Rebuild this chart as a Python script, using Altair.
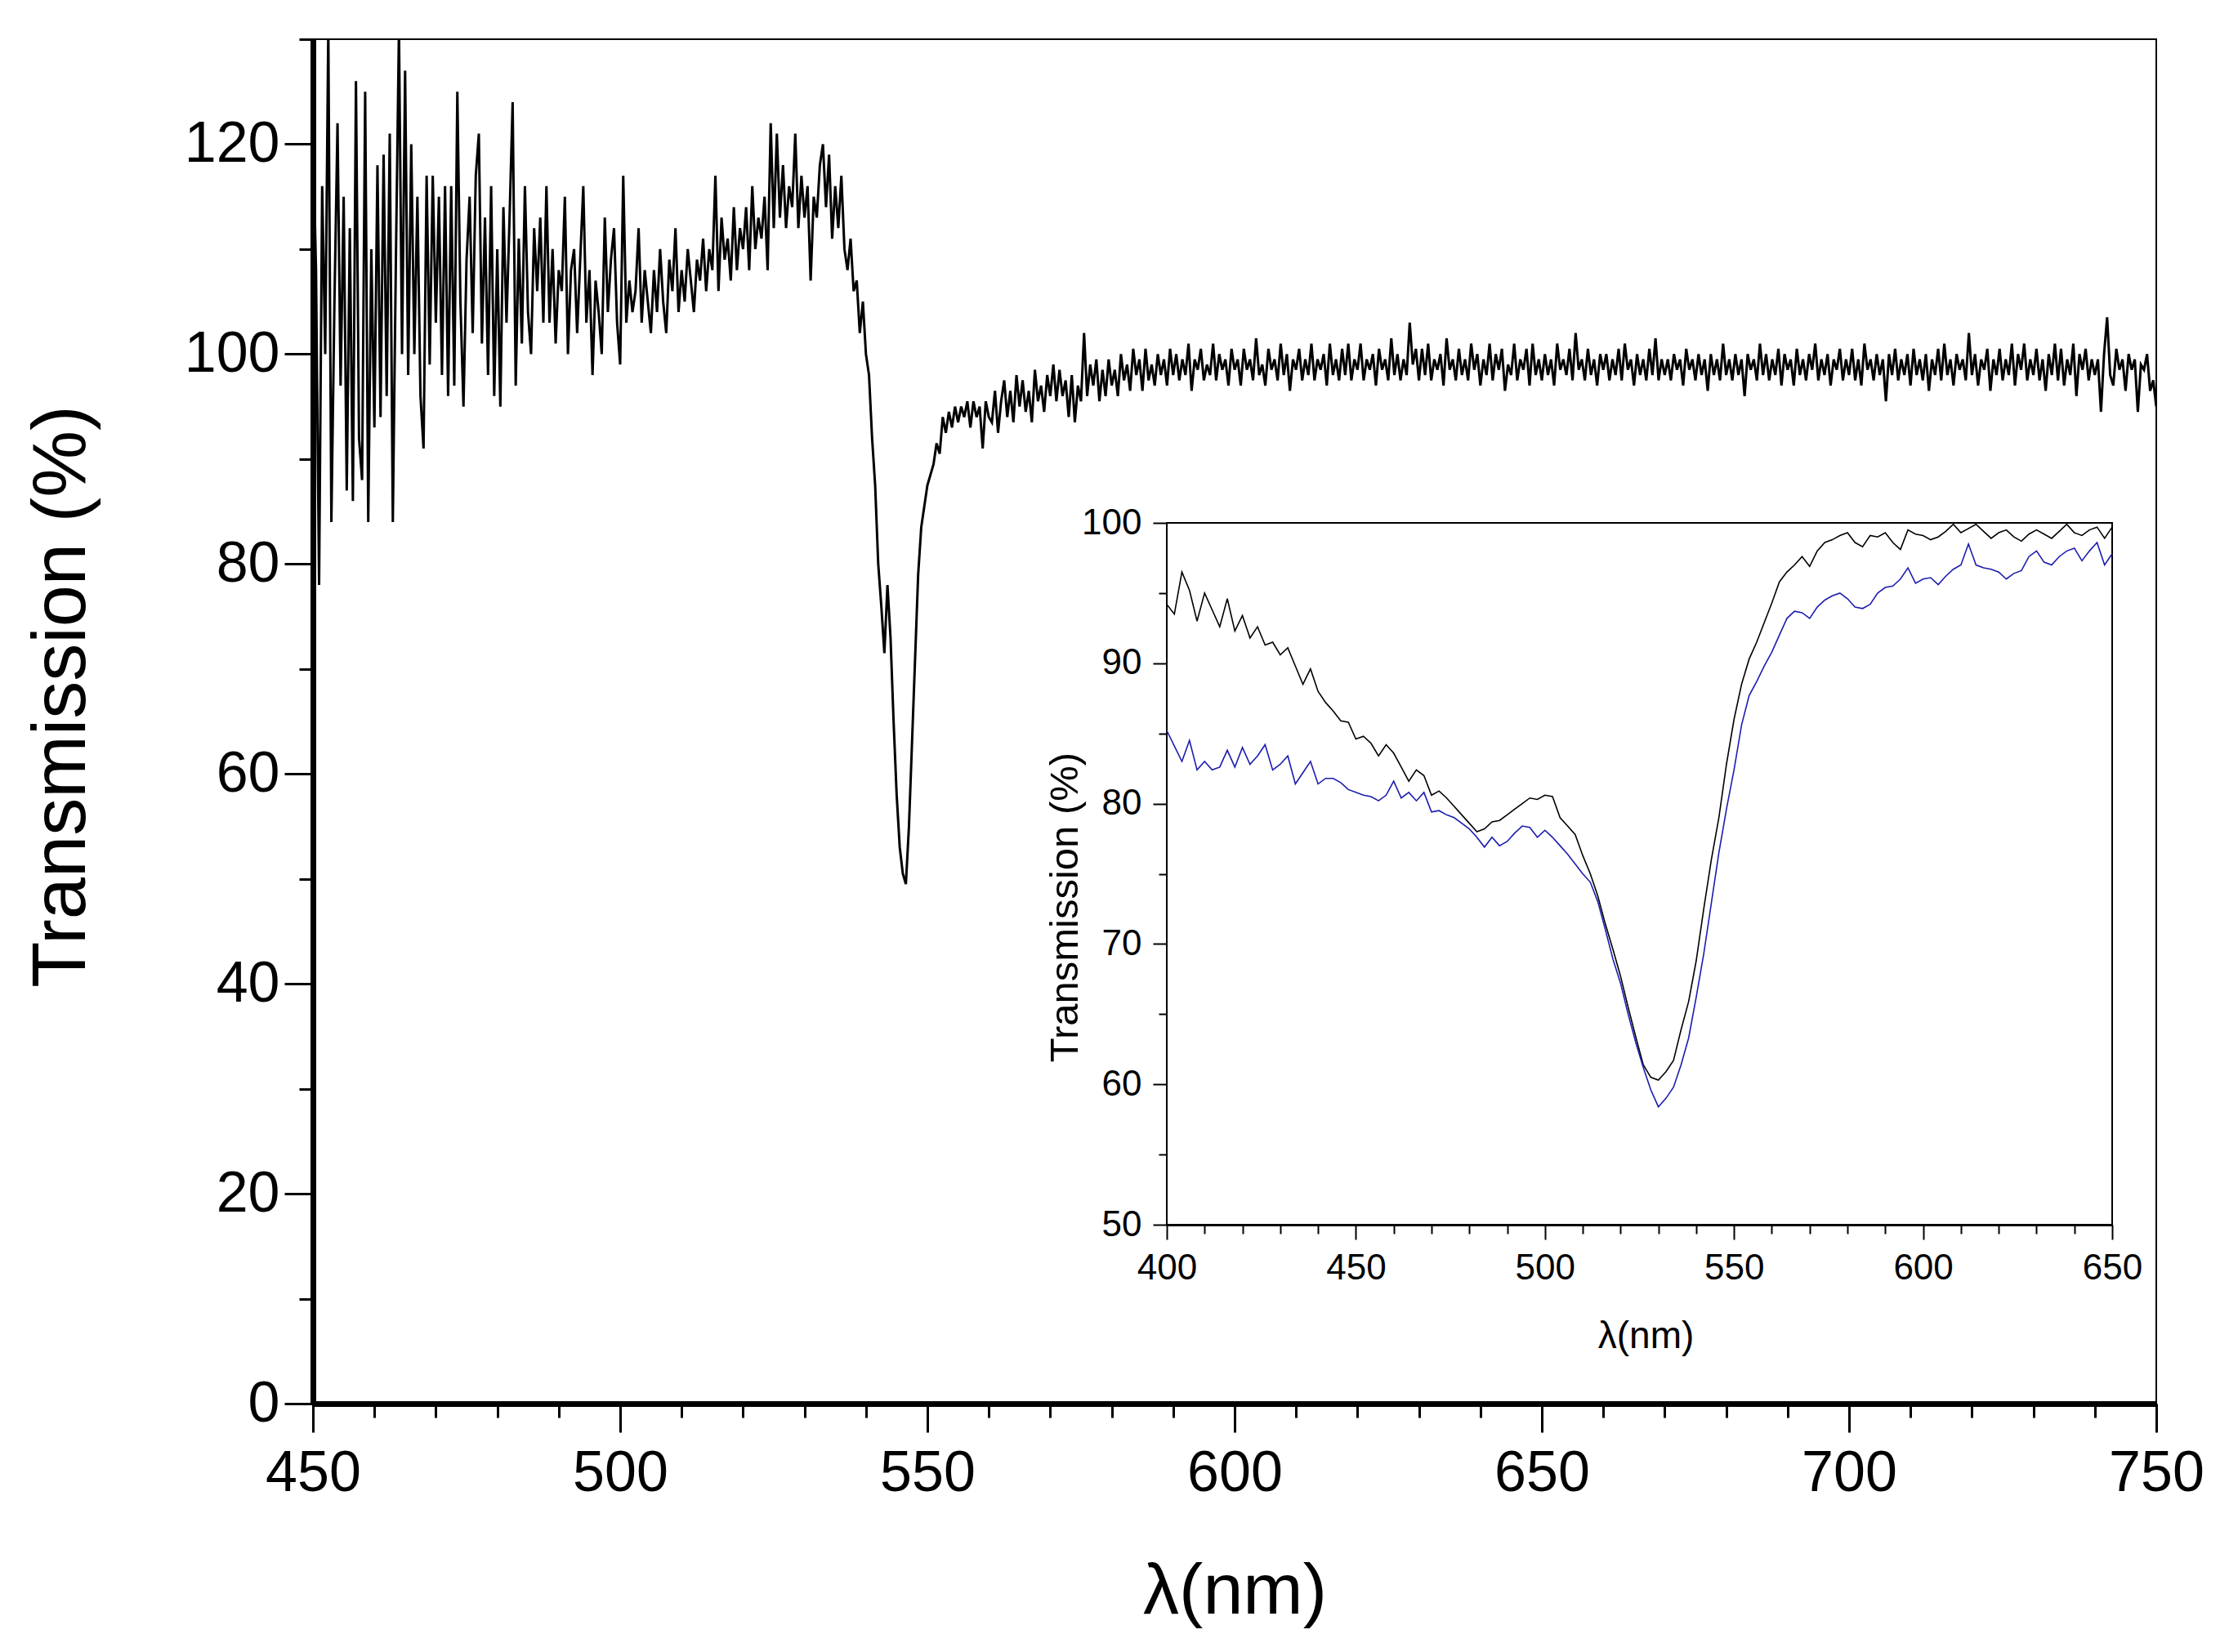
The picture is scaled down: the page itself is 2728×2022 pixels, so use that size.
import altair as alt
import numpy as np
import pandas as pd

FONT = "Liberation Sans"

# main spectrum: 450-540 nm read every 0.5 nm (noisy part)
wl_noisy = np.arange(450, 540.01, 0.5)
t_noisy = [
    121, 108, 78, 116, 100, 131, 84, 105, 122, 97, 115,
    87, 112, 86, 126, 92, 88, 125, 84, 110, 93,
    118, 94, 119, 96, 121, 84, 109, 131, 100, 127,
    98, 120, 100, 115, 96, 91, 117, 99, 117, 103,
    115, 98, 116, 96, 116, 97, 125, 105, 95, 109,
    115, 102, 117, 121, 101, 113, 98, 116, 96, 110,
    95, 114, 103, 113, 124, 97, 111, 101, 116, 104,
    100, 112, 106, 113, 103, 116, 103, 110, 101, 108,
    106, 115, 100, 108, 110, 102, 109, 116, 103, 108,
    98, 107, 104, 100, 113, 104, 109, 112, 103, 99,
    117, 103, 107, 104, 106, 112, 103, 108, 105, 102,
    108, 104, 110, 105, 102, 109, 106, 112, 104, 108,
    105, 110, 107, 104, 109, 107, 111, 106, 110, 108,
    117, 106, 113, 109, 111, 107, 114, 108, 112, 110,
    114, 108, 116, 110, 113, 111, 115, 108, 122, 112,
    121, 113, 118, 112, 116, 114, 121, 112, 117, 113,
    116, 107, 115, 113, 118, 120, 114, 119, 111, 116,
    112, 117, 110, 108, 111, 106, 107, 102, 105, 100,
]

# the dip, 540.5-560 nm every 0.5 nm
wl_dip = np.arange(540.5, 560.01, 0.5)
t_dip = [
    98, 92, 87.5, 80, 76, 71.5, 78, 73, 65, 58,
    53, 50.5, 49.5, 55, 63, 71, 79, 83.5, 85.5, 87.5,
    88.5, 89.5, 91.5, 90.5, 94, 92.5, 94.5, 93, 95, 93.5,
    95, 94, 95.5, 93, 95.5, 94, 95, 91, 95.5, 94,
]

# flat part, 560.5-750 nm every 0.5 nm (one row = 10 nm)
wl_flat = np.arange(560.5, 750.01, 0.5)
t_flat = [
    93.5, 96.5, 92.5, 95.5, 97.5, 94, 96.5, 93.5, 98, 95, 97.5, 94.5, 96.5, 93.5, 98.5, 95.5, 97, 94.5, 98, 96,
    99, 95.5, 98.5, 96, 97.5, 94, 98, 93.5, 97, 95.5, 102, 96, 99, 97, 99.5, 95.5, 98.5, 96, 99.5, 97,
    98.5, 96, 100, 97.5, 99, 96.5, 100.5, 98, 99.5, 96.5, 100.5, 97.5, 99, 97, 100, 98, 99.5, 97, 100.5, 98,
    100, 97.5, 99.5, 98, 101, 96.5, 99.5, 98.5, 100.5, 97.5, 99, 98, 101, 97.5, 100, 98.5, 99.5, 97, 100.5, 98.5,
    99.5, 97, 100.5, 98.5, 99.5, 97.5, 101.5, 98, 99, 97, 100.5, 98.5, 99.5, 97.5, 101, 98, 100, 96.5, 99.5, 98.5,
    100.5, 97.5, 99.5, 98, 101, 97.5, 99.5, 98.5, 100, 97, 101, 98, 99.5, 97.5, 100.5, 98, 101, 97.5, 99.5, 98.5,
    101, 97.5, 99.5, 98.5, 100, 97, 100.5, 98.5, 99.5, 97.5, 101.5, 98, 100, 97.5, 99.5, 98, 103, 99, 100.5, 97.5,
    100.5, 98, 101, 97.5, 99.5, 98.5, 100, 97, 101.5, 98.5, 99.5, 97.5, 100.5, 98, 99.5, 97.5, 101, 98.5, 100, 97,
    99.5, 98, 101, 97.5, 100, 98.5, 100.5, 96.5, 99, 98, 101, 97.5, 99.5, 98.5, 100.5, 97, 101, 98, 99.5, 97.5,
    100, 98, 99.5, 97, 101, 98.5, 99.5, 98, 100.5, 97.5, 102, 98.5, 99.5, 97.5, 100.5, 98, 99.5, 97, 100, 98.5,
    100, 97.5, 99.5, 98, 100.5, 97.5, 101, 98.5, 99.5, 97, 100, 98, 99.5, 97.5, 100.5, 98, 101.5, 97.5, 99.5, 98,
    99.5, 97.5, 100, 98.5, 99.5, 97, 100.5, 98.5, 99.5, 97.5, 100, 98, 99.5, 96.5, 100, 98, 99.5, 97.5, 101, 98,
    99.5, 97.5, 100, 98, 99.5, 96, 100, 98.5, 99.5, 97.5, 101, 98, 100, 97.5, 99.5, 98, 100.5, 97, 100, 98.5,
    99.5, 97, 100.5, 98, 99.5, 97.5, 100, 98.5, 101, 97.5, 99.5, 98, 100, 97, 99.5, 98.5, 100.5, 97.5, 99.5, 98,
    100.5, 97.5, 99.5, 97, 101, 98.5, 99.5, 97.5, 100, 98, 99.5, 95.5, 100, 98, 100.5, 97.5, 99.5, 98, 100, 97,
    100.5, 98, 99.5, 97.5, 100, 96.5, 99.5, 98, 100.5, 97.5, 101, 98, 99.5, 97, 100, 98.5, 99.5, 97.5, 102, 98,
    100, 97, 99.5, 98.5, 100.5, 96.5, 99.5, 98, 100.5, 97.5, 99.5, 98, 101, 97, 100, 98.5, 101, 97.5, 99.5, 98,
    100.5, 97.5, 99.5, 96.5, 100, 98, 101, 97.5, 100.5, 97, 99.5, 98, 101, 96, 100, 98.5, 100.5, 97.5, 99.5, 98,
    99.5, 94.5, 100, 103.5, 98, 97, 100.5, 98.5, 99.5, 96.5, 100, 98.5, 99.5, 94.5, 99, 98.5, 100, 96.5, 97.5, 95,
]

# inset: two spectra, 400-650 nm every 2 nm
wl_inset = np.arange(400, 650.01, 2.0)
t_black = [
    94.2, 93.5, 96.5, 95.2, 93.0, 95.0, 93.8, 92.6, 94.6, 92.3,
    93.4, 91.8, 92.6, 91.3, 91.5, 90.6, 91.1, 89.8, 88.5, 89.6,
    88.0, 87.2, 86.6, 85.9, 85.8, 84.6, 84.8, 84.3, 83.4, 84.2,
    83.6, 82.6, 81.6, 82.4, 82.0, 80.6, 80.9, 80.4, 79.8, 79.2,
    78.6, 78.0, 78.2, 78.7, 78.8, 79.2, 79.6, 80.0, 80.4, 80.3,
    80.6, 80.5, 79.0, 78.4, 77.8, 76.3, 75.0, 73.4, 71.4, 69.6,
    67.7, 65.5, 63.4, 61.4, 60.5, 60.3, 60.9, 61.7, 63.9, 65.9,
    68.8, 72.5, 76.0, 79.0, 82.8, 86.0, 88.5, 90.3, 91.5, 92.9,
    94.3, 95.8, 96.5, 97.0, 97.6, 96.9, 98.0, 98.6, 98.8, 99.1,
    99.3, 98.6, 98.3, 99.1, 99.0, 99.3, 98.6, 98.1, 99.5, 99.2,
    99.1, 98.8, 99.0, 99.4, 99.9, 99.3, 99.6, 99.9, 99.4, 98.9,
    99.3, 99.5, 99.0, 98.7, 99.2, 99.5, 99.2, 98.9, 99.4, 99.9,
    99.3, 99.1, 99.5, 99.7, 98.9, 99.7,
]
t_blue = [
    85.2, 84.1, 83.0, 84.5, 82.4, 83.0, 82.4, 82.6, 83.8, 82.6,
    84.0, 82.8, 83.4, 84.2, 82.4, 82.8, 83.4, 81.4, 82.2, 83.0,
    81.4, 81.8, 81.8, 81.5, 81.0, 80.8, 80.6, 80.5, 80.2, 80.6,
    81.6, 80.4, 80.8, 80.2, 80.8, 79.4, 79.5, 79.2, 79.0, 78.6,
    78.2, 77.6, 76.9, 77.6, 77.0, 77.3, 77.9, 78.4, 78.3, 77.6,
    78.1, 77.6, 77.0, 76.4, 75.7, 75.0, 74.4, 73.0, 71.0, 68.9,
    67.2, 65.0, 63.0, 61.2, 59.6, 58.4, 59.0, 59.8, 61.4, 63.3,
    66.2, 69.3, 72.9, 76.5, 79.6, 82.4, 85.6, 87.7, 88.7, 89.8,
    90.8, 92.0, 93.2, 93.7, 93.6, 93.2, 94.0, 94.5, 94.8, 95.0,
    94.6, 94.0, 93.9, 94.2, 95.0, 95.4, 95.5, 96.0, 96.8, 95.7,
    96.0, 96.1, 95.6, 96.2, 96.7, 97.0, 98.5, 97.0, 96.8, 96.7,
    96.5, 96.0, 96.4, 96.6, 97.6, 98.0, 97.2, 97.0, 97.6, 98.0,
    98.2, 97.3, 98.0, 98.6, 97.0, 97.8,
]

main_df = pd.DataFrame({
    "wl": np.concatenate([wl_noisy, wl_dip, wl_flat]),
    "t": t_noisy + t_dip + t_flat,
})
inset_df = pd.DataFrame({"wl": wl_inset, "black": t_black, "blue": t_blue})
frame_df = pd.DataFrame({"x": [400], "x2": [650], "y": [50], "y2": [100]})

W, H = 2256, 1670


def tick_len(step, major, minor):
    return {"condition": {"test": f"datum.value % {step} === 0", "value": major}, "value": minor}


common = dict(
    grid=False, labelFont=FONT, labelColor="black", titleFont=FONT, titleColor="black",
    titleFontWeight="normal", domainColor="black", tickColor="black",
    labelFlush=False, labelOverlap=False,
)

x_main = alt.X(
    "wl:Q",
    scale=alt.Scale(domain=[450, 750], nice=False, zero=False),
    axis=alt.Axis(
        orient="bottom", title="λ(nm)", values=list(range(450, 751, 10)),
        labelExpr="datum.value % 50 === 0 ? datum.label : ''",
        tickSize=tick_len(50, 35, 17), tickWidth=3, domainWidth=7,
        labelFontSize=70, labelPadding=16,
        titleFontSize=88, titleX=W / 2, titleY=230, titleBaseline="middle",
        **common,
    ),
)
y_main = alt.Y(
    "t:Q",
    scale=alt.Scale(domain=[0, 130], nice=False, zero=False),
    axis=alt.Axis(
        orient="left", title="Transmission (%)", values=list(range(0, 131, 10)),
        labelExpr="datum.value % 20 === 0 ? datum.label : ''",
        tickSize=tick_len(20, 35, 17), tickWidth=3, domainWidth=7,
        labelFontSize=70, labelPadding=6,
        titleFontSize=92, titleX=-308, titleY=804, titleBaseline="middle", titleAngle=270,
        **common,
    ),
)

main_line = alt.Chart(main_df).mark_line(color="black", strokeWidth=3.0, clip=True).encode(
    x=x_main, y=y_main
)

# inset placed inside the plot area through its own scale ranges
IX0, IX1, IY0, IY1 = 1045, 2202, 592, 1451
x_in_axis = alt.Axis(
    orient="bottom", offset=-(H - IY1), title="λ(nm)", values=list(range(400, 651, 10)),
    labelExpr="datum.value % 50 === 0 ? datum.label : ''",
    tickSize=tick_len(50, 18, 11), tickWidth=2, domainWidth=3,
    labelFontSize=44, labelPadding=13,
    titleFontSize=46, titleX=1631, titleY=136, titleBaseline="middle",
    **common,
)
y_in_axis = alt.Axis(
    orient="left", offset=-IX0, title="Transmission (%)", values=list(range(50, 101, 5)),
    labelExpr="datum.value % 10 === 0 ? datum.label : ''",
    tickSize=tick_len(10, 17, 10), tickWidth=2, domainWidth=3,
    labelFontSize=44, labelPadding=14,
    titleFontSize=49, titleX=-125, titleY=1062, titleBaseline="middle", titleAngle=270,
    **common,
)
x_in_scale = alt.Scale(domain=[400, 650], range=[IX0, IX1], nice=False, zero=False)
y_in_scale = alt.Scale(domain=[50, 100], range=[IY1, IY0], nice=False, zero=False)

frame = alt.Chart(frame_df).mark_rect(fill="white", stroke="black", strokeWidth=2).encode(
    x=alt.X("x:Q", scale=x_in_scale, axis=x_in_axis),
    x2="x2:Q",
    y=alt.Y("y:Q", scale=y_in_scale, axis=y_in_axis),
    y2="y2:Q",
)
black_line = alt.Chart(inset_df).mark_line(color="black", strokeWidth=1.6, clip=True).encode(
    x=alt.X("wl:Q", scale=x_in_scale, axis=x_in_axis),
    y=alt.Y("black:Q", scale=y_in_scale, axis=y_in_axis),
)
blue_line = alt.Chart(inset_df).mark_line(color="#1c1cb0", strokeWidth=1.6, clip=True).encode(
    x=alt.X("wl:Q", scale=x_in_scale, axis=x_in_axis),
    y=alt.Y("blue:Q", scale=y_in_scale, axis=y_in_axis),
)
inset = alt.layer(frame, black_line, blue_line)

chart = (
    alt.layer(main_line, inset)
    .resolve_scale(x="independent", y="independent")
    .properties(
        width=W, height=H,
        padding={"left": 375, "top": 40, "right": 81, "bottom": 296},
        autosize=alt.AutoSizeParams(type="none"),
        background="white",
    )
    .configure_view(stroke="black", strokeWidth=2)
)

chart.save("out.html", embed_options={"renderer": "svg", "actions": False})
